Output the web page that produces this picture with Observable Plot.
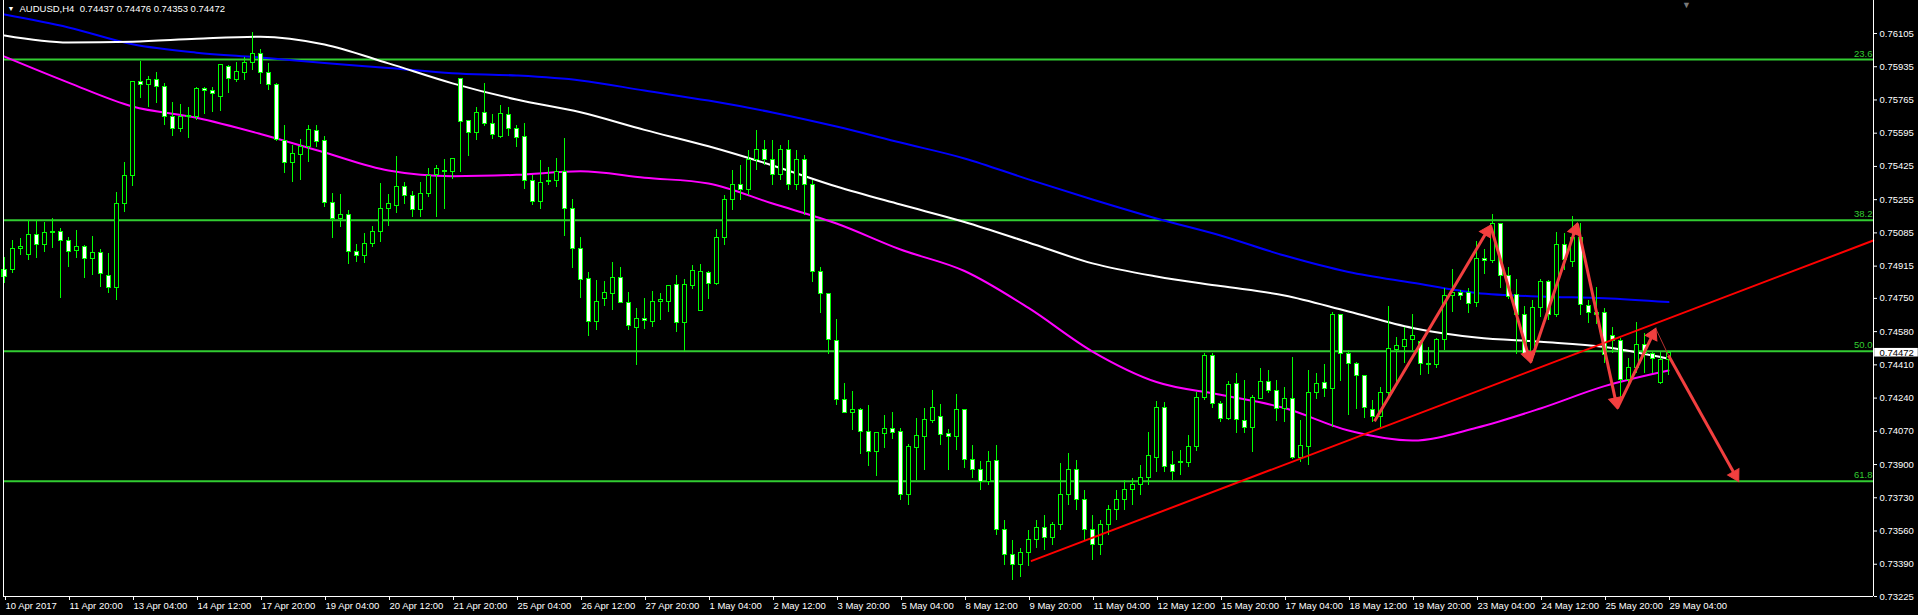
<!DOCTYPE html>
<html><head><meta charset="utf-8">
<script src="https://cdn.jsdelivr.net/npm/d3@7"></script>
<script src="https://cdn.jsdelivr.net/npm/@observablehq/plot@0.6"></script>
<style>
html,body{margin:0;padding:0;background:#000;overflow:hidden;}
#chart svg{display:block;}
</style></head><body><div id="chart"></div>
<script>
// ---- data (AUDUSD H4, bar index 0 = 10 Apr 2017 12:00) ----
const open = [0.74893,0.74893,0.75005,0.74970,0.75072,0.75021,0.75087,0.75092,0.75046,0.74990,0.75011,0.74949,0.74980,0.74862,0.74801,0.75231,0.75374,0.75855,0.75839,0.75865,0.75829,0.75676,0.75614,0.75676,0.75676,0.75819,0.75809,0.75778,0.75936,0.75865,0.75901,0.75952,0.75998,0.75901,0.75844,0.75553,0.75440,0.75486,0.75522,0.75604,0.75553,0.75236,0.75154,0.75179,0.74985,0.74965,0.75026,0.75092,0.75205,0.75225,0.75318,0.75272,0.75200,0.75282,0.75379,0.75404,0.75394,0.75870,0.75655,0.75594,0.75696,0.75640,0.75578,0.75686,0.75614,0.75573,0.75348,0.75241,0.75353,0.75348,0.75399,0.75205,0.75005,0.74847,0.74627,0.74745,0.74770,0.74852,0.74724,0.74601,0.74647,0.74627,0.74729,0.74734,0.74816,0.74622,0.74811,0.74688,0.74878,0.74826,0.75057,0.75251,0.75328,0.75302,0.75456,0.75507,0.75456,0.75379,0.75507,0.75328,0.75456,0.75328,0.74883,0.74770,0.74530,0.74228,0.74162,0.74177,0.74064,0.73962,0.74054,0.74080,0.74064,0.73742,0.73983,0.74039,0.74121,0.74141,0.74054,0.74039,0.74177,0.73921,0.73870,0.73809,0.73916,0.73563,0.73435,0.73384,0.73445,0.73512,0.73573,0.73522,0.73589,0.73742,0.73870,0.73717,0.73563,0.73486,0.73589,0.73665,0.73717,0.73768,0.73793,0.73829,0.73936,0.74187,0.73896,0.73911,0.73906,0.73988,0.74238,0.74453,0.74208,0.74131,0.74310,0.74121,0.74085,0.74233,0.74320,0.74274,0.74182,0.74233,0.73931,0.73988,0.74264,0.74315,0.74284,0.74663,0.74463,0.74412,0.74351,0.74177,0.74141,0.74264,0.74484,0.74499,0.74535,0.74525,0.74412,0.74410,0.74535,0.74760,0.74775,0.74775,0.74724,0.74949,0.74939,0.75128,0.74862,0.74765,0.74663,0.74458,0.74699,0.74832,0.74663,0.75021,0.74934,0.75057,0.74709,0.74673,0.74673,0.74560,0.74530,0.74330,0.74392,0.74514,0.74463,0.74315,0.74437];
const high = [0.74959,0.75046,0.75057,0.75149,0.75149,0.75139,0.75159,0.75108,0.75062,0.75098,0.75021,0.75067,0.75000,0.74980,0.75292,0.75445,0.75860,0.75962,0.75885,0.75906,0.75850,0.75752,0.75742,0.75727,0.75829,0.75829,0.75829,0.75947,0.75940,0.75957,0.75982,0.76110,0.76023,0.75952,0.75850,0.75635,0.75532,0.75563,0.75635,0.75635,0.75578,0.75287,0.75282,0.75200,0.75026,0.75082,0.75118,0.75338,0.75282,0.75476,0.75343,0.75297,0.75343,0.75415,0.75430,0.75461,0.75466,0.75875,0.75660,0.75727,0.75850,0.75691,0.75737,0.75727,0.75635,0.75645,0.75379,0.75456,0.75420,0.75466,0.75568,0.75256,0.75062,0.74883,0.74842,0.74837,0.74934,0.74908,0.74780,0.74699,0.74750,0.74786,0.74775,0.74816,0.74867,0.74847,0.74919,0.74924,0.74888,0.75103,0.75277,0.75404,0.75430,0.75507,0.75609,0.75558,0.75558,0.75532,0.75558,0.75507,0.75481,0.75353,0.74908,0.74775,0.74642,0.74315,0.74274,0.74187,0.74202,0.74059,0.74151,0.74167,0.74085,0.74003,0.74136,0.74187,0.74279,0.74208,0.74080,0.74259,0.74182,0.73998,0.73916,0.73967,0.73998,0.73614,0.73512,0.73471,0.73563,0.73614,0.73640,0.73604,0.73906,0.73957,0.73921,0.73768,0.73640,0.73614,0.73691,0.73768,0.73819,0.73829,0.73896,0.74064,0.74223,0.74218,0.73967,0.73972,0.74049,0.74269,0.74468,0.74468,0.74223,0.74325,0.74366,0.74330,0.74254,0.74392,0.74381,0.74330,0.74295,0.74448,0.74126,0.74381,0.74366,0.74412,0.74678,0.74665,0.74484,0.74422,0.74353,0.74228,0.74295,0.74709,0.74550,0.74601,0.74668,0.74535,0.74499,0.74545,0.74801,0.74898,0.74791,0.74801,0.75041,0.75000,0.75179,0.75133,0.74908,0.74847,0.74709,0.74740,0.74847,0.74842,0.75087,0.75082,0.75169,0.75133,0.74740,0.74806,0.74699,0.74601,0.74545,0.74443,0.74627,0.74571,0.74474,0.74474,0.74476];
const low = [0.74826,0.74878,0.74970,0.74944,0.74954,0.74985,0.75005,0.74750,0.74908,0.74954,0.74852,0.74867,0.74806,0.74775,0.74740,0.75190,0.75323,0.75773,0.75727,0.75747,0.75635,0.75578,0.75599,0.75568,0.75660,0.75691,0.75701,0.75706,0.75798,0.75855,0.75865,0.75916,0.75844,0.75814,0.75553,0.75389,0.75343,0.75353,0.75445,0.75522,0.75215,0.75057,0.75113,0.74924,0.74934,0.74929,0.75011,0.75036,0.75118,0.75185,0.75231,0.75164,0.75164,0.75266,0.75164,0.75205,0.75358,0.75394,0.75476,0.75558,0.75630,0.75563,0.75568,0.75578,0.75522,0.75307,0.75225,0.75205,0.75328,0.75318,0.75067,0.74903,0.74750,0.74555,0.74586,0.74709,0.74688,0.74724,0.74586,0.74407,0.74591,0.74601,0.74637,0.74678,0.74576,0.74479,0.74796,0.74683,0.74745,0.74816,0.75021,0.75200,0.75251,0.75277,0.75404,0.75430,0.75328,0.75353,0.75302,0.75302,0.75174,0.74832,0.74673,0.74463,0.74202,0.74160,0.74075,0.73952,0.73890,0.73839,0.73983,0.74029,0.73717,0.73691,0.73819,0.73870,0.74110,0.73998,0.73870,0.73972,0.73880,0.73829,0.73768,0.73793,0.73538,0.73384,0.73307,0.73323,0.73379,0.73471,0.73461,0.73486,0.73563,0.73691,0.73665,0.73512,0.73410,0.73435,0.73538,0.73614,0.73665,0.73691,0.73742,0.73793,0.73860,0.73860,0.73819,0.73844,0.73885,0.73967,0.74228,0.74187,0.74116,0.74126,0.74059,0.74059,0.73962,0.74233,0.74264,0.74121,0.74116,0.73926,0.73911,0.73896,0.74233,0.74243,0.74090,0.74325,0.74151,0.74182,0.74136,0.74116,0.74090,0.74238,0.74315,0.74417,0.74484,0.74353,0.74361,0.74392,0.74484,0.74678,0.74740,0.74673,0.74704,0.74873,0.74929,0.74801,0.74745,0.74463,0.74448,0.74428,0.74653,0.74637,0.74653,0.74893,0.74908,0.74663,0.74622,0.74617,0.74417,0.74468,0.74243,0.74305,0.74366,0.74366,0.74366,0.74310,0.74353];
const close = [0.74857,0.75005,0.75011,0.75072,0.75021,0.75087,0.75092,0.75041,0.74985,0.75011,0.74954,0.74980,0.74873,0.74801,0.75231,0.75374,0.75855,0.75844,0.75865,0.75829,0.75676,0.75619,0.75676,0.75681,0.75819,0.75809,0.75793,0.75942,0.75870,0.75906,0.75952,0.75998,0.75901,0.75844,0.75558,0.75445,0.75491,0.75522,0.75609,0.75548,0.75236,0.75154,0.75179,0.74985,0.74965,0.75026,0.75092,0.75205,0.75231,0.75318,0.75272,0.75200,0.75282,0.75374,0.75410,0.75399,0.75461,0.75650,0.75594,0.75696,0.75640,0.75584,0.75691,0.75614,0.75568,0.75348,0.75241,0.75338,0.75343,0.75394,0.75205,0.75005,0.74842,0.74627,0.74734,0.74775,0.74852,0.74724,0.74607,0.74647,0.74632,0.74729,0.74740,0.74811,0.74622,0.74816,0.74888,0.74883,0.74826,0.75057,0.75251,0.75328,0.75302,0.75456,0.75507,0.75456,0.75379,0.75507,0.75328,0.75456,0.75328,0.74883,0.74770,0.74535,0.74228,0.74162,0.74177,0.74064,0.73962,0.74059,0.74080,0.74059,0.73742,0.73988,0.74044,0.74126,0.74187,0.74049,0.74039,0.74177,0.73921,0.73870,0.73809,0.73911,0.73563,0.73435,0.73384,0.73445,0.73512,0.73573,0.73522,0.73589,0.73742,0.73870,0.73717,0.73563,0.73486,0.73589,0.73665,0.73717,0.73768,0.73793,0.73829,0.73942,0.74187,0.73890,0.73860,0.73906,0.73988,0.74238,0.74453,0.74208,0.74131,0.74305,0.74126,0.74085,0.74238,0.74320,0.74274,0.74182,0.74233,0.73931,0.73993,0.74264,0.74310,0.74284,0.74663,0.74463,0.74412,0.74351,0.74187,0.74141,0.74264,0.74489,0.74504,0.74535,0.74560,0.74412,0.74410,0.74535,0.74760,0.74775,0.74760,0.74719,0.74949,0.74939,0.75128,0.74862,0.74755,0.74663,0.74458,0.74699,0.74832,0.74663,0.75021,0.74944,0.75057,0.74714,0.74673,0.74663,0.74458,0.74530,0.74330,0.74392,0.74514,0.74463,0.74438,0.74437,0.74472];

const tickBars = [0,8,16,24,32,40,48,56,64,72,80,88,96,104,112,120,128,136,144,152,160,168,176,184,192,200,208];
const tickLabels = ["10 Apr 2017","11 Apr 20:00","13 Apr 04:00","14 Apr 12:00","17 Apr 20:00","19 Apr 04:00","20 Apr 12:00","21 Apr 20:00","25 Apr 04:00","26 Apr 12:00","27 Apr 20:00","1 May 04:00","2 May 12:00","3 May 20:00","5 May 04:00","8 May 12:00","9 May 20:00","11 May 04:00","12 May 12:00","15 May 20:00","17 May 04:00","18 May 12:00","19 May 20:00","23 May 04:00","24 May 12:00","25 May 20:00","29 May 04:00"];
const priceTicks = [0.76105,0.75935,0.75765,0.75595,0.75425,0.75255,0.75085,0.74915,0.74750,0.74580,0.74410,0.74240,0.74070,0.73900,0.73730,0.73560,0.73390,0.73225];

const fibLevels = [0.75972,0.75150,0.74479,0.73815];
const fibLabels = ["23.6","38.2","50.0","61.8"];

const maBars = tickBars;
const maWhite = [0.76095,0.76059,0.76063,0.76078,0.76089,0.76049,0.75952,0.75850,0.75767,0.75702,0.75612,0.75528,0.75430,0.75322,0.75230,0.75141,0.75036,0.74929,0.74862,0.74813,0.74765,0.74683,0.74599,0.74550,0.74528,0.74501,0.74441];
const maBlue = [0.76202,0.76136,0.76050,0.76007,0.75982,0.75954,0.75929,0.75902,0.75890,0.75865,0.75813,0.75762,0.75701,0.75629,0.75547,0.75466,0.75359,0.75256,0.75159,0.75072,0.74969,0.74885,0.74830,0.74778,0.74760,0.74751,0.74731];
const maMagenta = [0.75987,0.75854,0.75732,0.75674,0.75591,0.75496,0.75404,0.75375,0.75382,0.75400,0.75367,0.75338,0.75235,0.75133,0.75000,0.74890,0.74701,0.74478,0.74322,0.74257,0.74189,0.74074,0.74023,0.74088,0.74187,0.74301,0.74381];

const trendBars = [128.4, 233.6];
const trendPrices = [0.73407, 0.75046];
const zigBars = [171.25, 185.75, 190.75, 196.6, 201.6, 206.4];
const zigPrices = [0.74121, 0.75123, 0.74422, 0.75133, 0.74187, 0.74596];
const projBars = [206.4, 208, 216.75];
const projPrices = [0.74596, 0.74458, 0.73815];
const shiftMarkBar = 210.25;

const symbol = "AUDUSD,H4";
const quote = [0.74437, 0.74476, 0.74353, 0.74472];

// ---- build ----
const W = 1918, H = 615, mL = 3, mR = 45, mT = 0, mB = 19;
const candles = open.map((o, i) => ({i, o, h: high[i], l: low[i], c: close[i]}));
const xMin = -0.125, xMax = 233.625;
const yMin = 0.73225, yMax = 0.762738;
const kx = (W - mL - mR) / (xMax - xMin);      // px per bar
const ky = (H - mT - mB) / (yMax - yMin);      // px per price unit
const labelOf = new Map(tickBars.map((b, k) => [b, tickLabels[k]]));
const line = (xs, ys) => xs.map((x, k) => ({x, y: ys[k]}));
const pairs = (xs, ys) => xs.slice(1).map((x, k) => ({x1: xs[k], y1: ys[k], x2: x, y2: ys[k + 1]}));
// arrow: shaft ending at the centroid of a filled triangular head
const HEAD_BACK = 7;
function arrowParts(segs) {
  return segs.map(s => {
    const vx = (s.x2 - s.x1) * kx, vy = -(s.y2 - s.y1) * ky;
    const len = Math.hypot(vx, vy), ux = vx / len, uy = vy / len;
    const hx = s.x2 - ux * HEAD_BACK / kx, hy = s.y2 + uy * HEAD_BACK / ky;
    return {x1: s.x1, y1: s.y1, hx, hy, rot: Math.atan2(ux, -uy) * 180 / Math.PI};
  });
}
const zigArrows = arrowParts(pairs(zigBars, zigPrices));
const projArrows = arrowParts(pairs(projBars.slice(1), projPrices.slice(1)));
const allArrows = zigArrows.concat(projArrows);
const last = quote[3];
const font = "Liberation Sans, Arial, sans-serif";
const green = "#00ff00", fibGreen = "#32cd32", arrowRed = "#f23f3f";

const chart = Plot.plot({
  width: W, height: H,
  marginLeft: mL, marginRight: mR, marginTop: mT, marginBottom: mB,
  style: {background: "#000", color: "#fff", fontFamily: font, fontSize: "9.5px", overflow: "visible"},
  x: {type: "linear", domain: [xMin, xMax], axis: null},
  y: {type: "linear", domain: [yMin, yMax], axis: null},
  marks: [
    Plot.ruleY(fibLevels, {stroke: fibGreen, strokeWidth: 2}),
    Plot.text(fibLevels, {x: xMax, y: d => d, text: (d, k) => fibLabels[k], textAnchor: "end", dx: -1, dy: -6, fill: fibGreen, fontSize: 9.5}),
    Plot.line(line(maBars, maBlue), {x: "x", y: "y", stroke: "#0000ff", strokeWidth: 2, curve: "monotone-x"}),
    Plot.line(line(maBars, maWhite), {x: "x", y: "y", stroke: "#ffffff", strokeWidth: 2, curve: "monotone-x"}),
    Plot.line(line(maBars, maMagenta), {x: "x", y: "y", stroke: "#ff00ff", strokeWidth: 2, curve: "monotone-x"}),
    Plot.ruleX(candles, {x: "i", y1: "l", y2: "h", stroke: green, strokeWidth: 1, shapeRendering: "crispEdges"}),
    Plot.rect(candles, {x1: d => d.i - 0.25, x2: d => d.i + 0.25, y1: "o", y2: "c", fill: d => d.c > d.o ? "#000" : "#fff", stroke: green, strokeWidth: 1, shapeRendering: "crispEdges"}),
    Plot.line(line(trendBars, trendPrices), {x: "x", y: "y", stroke: "#ff0000", strokeWidth: 2}),
    Plot.link(pairs(projBars.slice(0, 2), projPrices.slice(0, 2)), {x1: "x1", y1: "y1", x2: "x2", y2: "y2", stroke: "#b83030", strokeWidth: 1}),
    Plot.link(allArrows, {x1: "x1", y1: "y1", x2: "hx", y2: "hy", stroke: arrowRed, strokeWidth: 3}),
    Plot.dot(allArrows, {x: "hx", y: "hy", rotate: "rot", symbol: "triangle", r: 4.8, fill: arrowRed, stroke: arrowRed, strokeWidth: 1}),
    // frame
    Plot.ruleX([xMin, xMax], {stroke: "#fff", strokeWidth: 1}),
    Plot.ruleY([yMin], {stroke: "#fff", strokeWidth: 1}),
    Plot.axisY({anchor: "right", ticks: priceTicks, tickFormat: d => d.toFixed(5), tickSize: 3, tickPadding: 3, stroke: "#fff", fill: "#fff", fontSize: 9.5}),
    Plot.axisX({anchor: "bottom", ticks: tickBars, tickFormat: d => labelOf.get(d), tickSize: 4, tickPadding: 2, textAnchor: "start", dx: 1, stroke: "#fff", fill: "#fff", fontSize: 9.5}),
    // current price tag
    Plot.rect([last], {x1: xMax + 0.15, x2: xMax + 5.6, y1: d => d + 0.00022, y2: d => d - 0.00022, fill: "#fff"}),
    Plot.text([last], {x: xMax, y: d => d, text: d => d.toFixed(5), dx: 6, textAnchor: "start", fill: "#000", fontSize: 9.5}),
    // chart-shift marker
    Plot.text(["\u25BC"], {x: shiftMarkBar, frameAnchor: "top", dy: 1, lineAnchor: "top", fill: "#7a7a7a", fontSize: 9}),
    // title
    Plot.text(["\u25BC"], {frameAnchor: "top-left", dx: 4, dy: 6, textAnchor: "start", lineAnchor: "top", fill: "#fff", fontSize: 7}),
    Plot.text([symbol + "\u00a0\u00a0" + quote.map(q => q.toFixed(5)).join(" ")], {frameAnchor: "top-left", dx: 16, dy: 5, textAnchor: "start", lineAnchor: "top", fill: "#fff", fontSize: 9.5})
  ]
});
document.getElementById("chart").appendChild(chart);
</script></body></html>
